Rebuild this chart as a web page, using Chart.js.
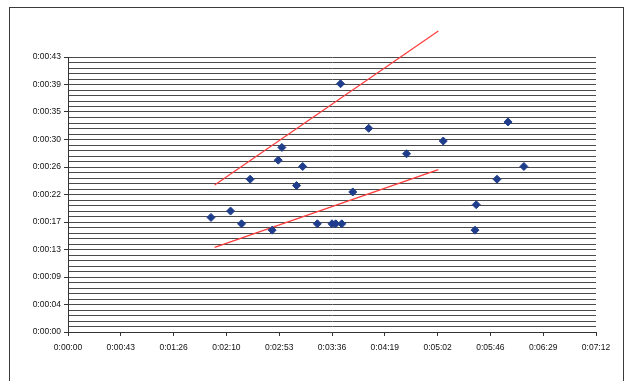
<!DOCTYPE html>
<html>
<head>
<meta charset="utf-8">
<script src="https://cdn.jsdelivr.net/npm/chart.js@4"></script>
<style>
  html, body { margin: 0; padding: 0; background: #fff; }
  #wrap { position: relative; width: 626px; height: 381px; overflow: hidden; }
  #frame { position: absolute; left: 9px; top: 7px; width: 615px; height: 400px; border: 1px solid #3a3a3a; box-sizing: border-box; }
  canvas { position: absolute; left: 0; top: 0; }
</style>
</head>
<body>
<div id="wrap">
  <div id="frame"></div>
  <canvas id="chart" width="626" height="381"></canvas>
</div>
<script>
// ===========================
// Data (seconds)
// ===========================
const pointX = [117, 133, 142, 149, 167, 172, 175, 187, 192, 204, 216, 219, 224, 223, 233, 246, 277, 307, 333, 334, 351, 360, 373];
const pointY = [18, 19, 17, 24, 16, 27, 29, 23, 26, 17, 17, 17, 17, 39, 22, 32, 28, 30, 16, 20, 24, 33, 26];

// two red guide lines
const upperX = [120, 303];
const upperY = [23.1, 47.3];
const lowerX = [120, 303];
const lowerY = [13.3, 25.5];

// axis ticks: x every 43.2 s, y every 0.864 s (label on every 5th)
const xTicks = [0, 43.2, 86.4, 129.6, 172.8, 216, 259.2, 302.4, 345.6, 388.8, 432];
const yTicks = Array.from({ length: 51 }, (_, i) => +(i * 0.864).toFixed(3));

function fmtTime(sec) {
  const s = Math.round(sec);
  const h = Math.floor(s / 3600);
  const m = Math.floor((s % 3600) / 60);
  const r = s % 60;
  return h + ':' + String(m).padStart(2, '0') + ':' + String(r).padStart(2, '0');
}

const toXY = (xs, ys) => xs.map((x, i) => ({ x, y: ys[i] }));

const tickFont = { family: "'Liberation Sans', Arial, sans-serif", size: 8.5 };

new Chart(document.getElementById('chart'), {
  type: 'scatter',
  data: {
    datasets: [
      {
        data: toXY(pointX, pointY),
        pointStyle: 'rectRot',
        pointRadius: 4,
        backgroundColor: '#1f3d8a',
        borderColor: '#1f3d8a',
        borderWidth: 1,
      },
      {
        data: toXY(upperX, upperY),
        showLine: true,
        pointRadius: 0,
        borderColor: '#ff3c3c',
        borderWidth: 1.2,
        clip: false,
      },
      {
        data: toXY(lowerX, lowerY),
        showLine: true,
        pointRadius: 0,
        borderColor: '#ff3c3c',
        borderWidth: 1.2,
        clip: false,
      },
    ]
  },
  options: {
    responsive: false,
    animation: false,
    layout: { padding: { left: 0, top: 57, right: 30, bottom: 0 } },
    plugins: { legend: { display: false }, tooltip: { enabled: false } },
    scales: {
      x: {
        type: 'linear',
        min: 0,
        max: 432,
        afterBuildTicks: s => { s.ticks = xTicks.map(v => ({ value: v })); },
        afterFit: s => { s.height = 49; },
        grid: { drawOnChartArea: false, drawTicks: true, tickLength: 4, color: '#333' },
        border: { display: true, color: '#333', width: 1 },
        ticks: {
          autoSkip: false,
          maxRotation: 0,
          padding: 7,
          color: '#111',
          font: tickFont,
          callback: v => fmtTime(v)
        }
      },
      y: {
        type: 'linear',
        min: 0,
        max: 43.2,
        afterBuildTicks: s => { s.ticks = yTicks.map(v => ({ value: v })); },
        afterFit: s => { s.width = 68; },
        grid: {
          color: '#4a4a4a',
          lineWidth: 1,
          tickLength: 4,
          tickColor: c => (c.index % 5 === 0 ? '#333' : 'rgba(0,0,0,0)')
        },
        border: { display: true, color: '#333', width: 1 },
        ticks: {
          autoSkip: false,
          padding: 3,
          color: '#111',
          font: tickFont,
          callback: (v, i) => (i % 5 === 0 ? fmtTime(v) : '')
        }
      }
    }
  }
});
</script>
</body>
</html>
